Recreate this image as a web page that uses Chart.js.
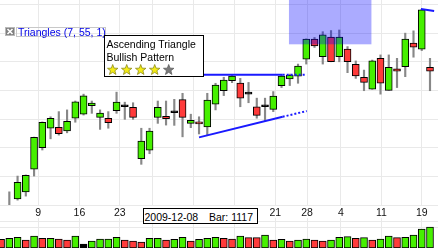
<!DOCTYPE html>
<html>
<head>
<meta charset="utf-8">
<script src="https://cdn.jsdelivr.net/npm/chart.js@4.4.1/dist/chart.umd.min.js"></script>
<style>
  html, body { margin: 0; padding: 0; background: #fff; }
  body { position: relative; width: 438px; height: 248px; overflow: hidden; font-family: "Liberation Sans", Arial, sans-serif; }
  canvas { position: absolute; left: 0; }
  #priceChart { top: 0; }
  #volumeChart { top: 218px; }
  .study-icon { position: absolute; left: 5px; top: 27px; width: 10px; height: 9px; }
  .study-label { position: absolute; left: 16px; top: 27px; width: 88px; height: 8px; border: 1px solid #c8c8c8; }
  .study-text { position: absolute; left: 18px; top: 27px; font-size: 10.5px; line-height: 11px; color: #0000e6; white-space: nowrap; }
  .pattern-box { position: absolute; left: 104px; top: 35px; width: 100px; height: 42px; box-sizing: border-box; border: 1.5px solid #000; background: #fff; }
  .pattern-box .line { position: absolute; left: 1.5px; font-size: 10.5px; line-height: 12.5px; color: #000; white-space: nowrap; }
  .stars { position: absolute; left: 2px; top: 28px; display: flex; gap: 2.6px; }
  .date-box { position: absolute; left: 143px; top: 208px; width: 115px; height: 16px; box-sizing: border-box; border: 1.5px solid #000; background: #fff; font-size: 10.5px; line-height: 12px; color: #000; }
  .date-box span { position: absolute; top: 2px; white-space: nowrap; }
</style>
</head>
<body>
<canvas id="volumeChart" width="438" height="30"></canvas>
<canvas id="priceChart" width="438" height="222"></canvas>

<svg class="study-icon" viewBox="0 0 10 9">
  <rect x="0.5" y="0.5" width="9" height="8" fill="#808080" stroke="#b8b8b8"/>
  <path d="M2.5 2 L7.5 7 M7.5 2 L2.5 7" stroke="#fff" stroke-width="1.6"/>
</svg>
<div class="study-label"></div>
<div class="study-text">Triangles (7, 55, 1)</div>

<div class="pattern-box">
  <div class="line" style="top:2.3px">Ascending Triangle</div>
  <div class="line" style="top:14.8px">Bullish Pattern</div>
  <div class="stars" id="stars"></div>
</div>

<div class="date-box">
  <span style="left:0.5px">2009-12-08</span>
  <span style="right:4px">Bar: 1117</span>
</div>

<script>
// OHLC per bar (price units, one entry per trading day)
const opens  = [-0.3, -0.4, 0.21, 0.46, 1.25, 2.00, 2.68, 2.71, 2.59, 3.03,
                3.17, 3.47, 3.06, 3.03, 3.29, 3.43, 3.41, 1.62, 1.91, 3.06,
                3.10, 3.22, 3.68, 2.85, 2.90, 2.73, 3.52, 3.99, 4.34, 4.26,
                3.87, 3.43, 3.43, 3.34, 4.17, 4.40, 4.50, 5.09, 5.79, 5.18,
                5.86, 5.18, 5.44, 4.91, 4.46, 4.04, 5.12, 4.00, 4.75, 4.83,
                5.65, 5.44, 4.81];
const highs  = [-0.1, 0.46, 1.01, 1.05, 2.37, 2.90, 3.08, 3.26, 3.32, 3.63,
                3.87, 3.63, 3.32, 3.26, 3.94, 3.59, 3.57, 2.68, 2.68, 3.63,
                3.63, 3.69, 3.90, 3.17, 3.08, 3.90, 4.25, 4.46, 4.56, 4.42,
                4.28, 3.73, 3.73, 3.96, 4.54, 4.57, 4.92, 5.80, 5.85, 6.05,
                6.09, 6.11, 5.53, 5.03, 4.71, 5.06, 5.24, 5.24, 5.12, 6.00,
                6.08, 6.83, 5.12];
const lows   = [-0.6, -0.5, 0.17, 0.31, 1.01, 1.92, 2.31, 2.44, 2.52, 2.89,
                3.14, 3.20, 2.64, 2.68, 3.20, 2.99, 2.99, 1.42, 1.79, 2.85,
                2.79, 2.78, 2.38, 2.70, 2.48, 2.44, 3.32, 3.82, 4.27, 3.43,
                3.57, 3.03, 2.93, 3.26, 4.10, 4.17, 4.25, 4.92, 5.50, 4.92,
                5.00, 5.00, 4.62, 4.42, 3.99, 4.04, 3.87, 4.00, 4.10, 4.48,
                5.16, 5.39, 3.99];
const closes = [-0.5, -0.05, 0.79, 1.04, 2.36, 2.89, 3.03, 2.49, 2.92, 3.60,
                3.81, 3.56, 3.21, 2.87, 3.59, 3.43, 3.06, 2.23, 2.58, 3.41,
                3.01, 3.22, 3.06, 2.96, 2.83, 3.66, 4.19, 4.36, 4.50, 3.73,
                3.87, 3.13, 3.43, 3.80, 4.50, 4.54, 4.85, 5.79, 5.55, 5.94,
                5.00, 5.86, 5.00, 4.51, 4.28, 5.03, 4.25, 4.81, 4.67, 5.79,
                5.51, 6.81, 4.67];

// volume per bar and the colour class shown in the volume pane
const volumes = [870, 970, 1070, 800, 1200, 970, 970, 900, 800, 1200,
                 400, 700, 900, 900, 1070, 800, 700, 600, 970, 970,
                 800, 870, 1070, 700, 870, 970, 1070, 970, 900, 1200,
                 1030, 1030, 1300, 800, 870, 700, 800, 900, 800, 700,
                 800, 1070, 1130, 970, 1030, 800, 900, 1200, 1030, 1070,
                 1300, 1900, 2100];
const volumeDir = ['d','u','u','d','u','d','u','d','d','u',
                   'f','u','u','u','u','d','d','d','u','u',
                   'd','u','u','d','u','u','u','d','d','u',
                   'd','d','u','d','u','d','u','u','d','d',
                   'u','u','u','d','u','d','u','u','d','u',
                   'u','u','u'];

// x axis: week starts (bar position) and their day labels
const tickPos    = [4.5, 9.5, 14.4, 18.4, 23.3, 28.3, 33.25, 37.1, 41.2, 46.1, 51.0];
const tickLabels = ['9', '16', '23', '30', '7', '14', '21', '28', '4', '11', '19'];
const yTicks   = [0, 1, 2, 3, 4, 5, 6, 7];
const volTicks = [2070, 2630];

// pattern overlays (bar position / price)
const resistX = [24.0, 34.14, 37.05];
const resistY = [4.55, 4.55, 4.55];
const supportX = [24.0, 34.14, 37.05];
const supportY = [2.36, 3.08, 3.28];
const nextLineX = [50.9, 52.5];
const nextLineY = [6.84, 6.77];
const zoneX = [34.9, 44.9];
const zoneY = [5.61, 7.2];
const rating = 4, ratingMax = 5;

const UP = '#46f000', DOWN = '#ff3b3b', FLAT = '#000';
const FONT = '"Liberation Sans", Arial, sans-serif';
const barIdx = opens.map((_, i) => i);

function pts(xs, ys) { return xs.map((x, i) => ({ x: x, y: ys[i] })); }

// stars in the pattern box
const starBox = document.getElementById('stars');
for (let i = 0; i < ratingMax; i++) {
    const p = [];
    for (let k = 0; k < 10; k++) {
        const r = k % 2 ? 2.3 : 5.5;
        const a = -Math.PI / 2 + k * Math.PI / 5;
        p.push((5.7 + r * Math.cos(a)).toFixed(2) + ',' + (6 + r * Math.sin(a)).toFixed(2));
    }
    const on = i < rating;
    starBox.innerHTML += `<svg width="11.4" height="11" viewBox="0 0 11.4 11">
        <polygon points="${p.join(' ')}" fill="${on ? '#f5ec14' : '#7a7a7a'}" stroke="${on ? '#8c8a1a' : '#606060'}" stroke-width="0.8"/></svg>`;
}

const zonePlugin = {
    id: 'zone',
    afterDatasetsDraw(chart) {
        const { ctx, chartArea, scales: { x, y } } = chart;
        const left = x.getPixelForValue(zoneX[0]);
        const right = x.getPixelForValue(zoneX[1]);
        const top = y.getPixelForValue(zoneY[1]);
        const bottom = y.getPixelForValue(zoneY[0]);
        ctx.save();
        ctx.beginPath();
        ctx.rect(chartArea.left, chartArea.top, chartArea.right - chartArea.left, chartArea.bottom - chartArea.top);
        ctx.clip();
        ctx.fillStyle = 'rgba(0, 0, 255, 0.33)';
        ctx.fillRect(left, top, right - left, bottom - top);
        ctx.restore();
    }
};

const xAxis = (showLabels, h) => ({
    type: 'linear', min: -0.13, max: 52.97, offset: false,
    grid: { color: '#e9e9e9', drawTicks: false, offset: false },
    border: { display: false },
    ticks: {
        display: showLabels, padding: 2, color: '#111', autoSkip: false, maxRotation: 0,
        font: { size: 10.5, family: FONT },
        callback: (v, i) => tickLabels[i]
    },
    afterBuildTicks: (axis) => { axis.ticks = tickPos.map(v => ({ value: v })); },
    afterFit: (axis) => { axis.height = h; }
});

new Chart(document.getElementById('priceChart'), {
    type: 'bar',
    data: {
        datasets: [
            {
                type: 'line', data: pts(resistX.slice(0, 2), resistY.slice(0, 2)),
                borderColor: '#1a1aff', borderWidth: 2, pointRadius: 0, order: 1
            },
            {
                type: 'line', data: pts(resistX.slice(1), resistY.slice(1)),
                borderColor: '#1a1aff', borderWidth: 2, borderDash: [2, 2], pointRadius: 0, order: 1
            },
            {
                type: 'line', data: pts(supportX.slice(0, 2), supportY.slice(0, 2)),
                borderColor: '#1a1aff', borderWidth: 2, pointRadius: 0, order: 1
            },
            {
                type: 'line', data: pts(supportX.slice(1), supportY.slice(1)),
                borderColor: '#1a1aff', borderWidth: 2, borderDash: [2, 2], pointRadius: 0, order: 1
            },
            {
                type: 'line', data: pts(nextLineX, nextLineY),
                borderColor: '#1a1aff', borderWidth: 2, pointRadius: 0, order: 1
            },
            {
                // candle bodies
                data: barIdx.map(i => ({ x: i, y: [opens[i], closes[i]] })),
                backgroundColor: barIdx.map(i => closes[i] > opens[i] ? UP : closes[i] < opens[i] ? DOWN : FLAT),
                borderColor: '#000', borderWidth: 1, borderSkipped: false,
                barThickness: 7, minBarLength: 2, grouped: false, order: 2
            },
            {
                // wicks
                data: barIdx.map(i => ({ x: i, y: [lows[i], highs[i]] })),
                backgroundColor: '#888', borderWidth: 0,
                barThickness: 1.5, grouped: false, order: 3
            }
        ]
    },
    options: {
        responsive: false, animation: false,
        layout: { padding: 0 },
        plugins: { legend: { display: false }, tooltip: { enabled: false } },
        scales: {
            x: xAxis(true, 17),
            y: {
                min: 0, max: 7.157,
                grid: { color: '#e9e9e9', drawTicks: false },
                border: { display: false },
                ticks: { display: false },
                afterBuildTicks: (axis) => { axis.ticks = yTicks.map(v => ({ value: v })); },
                afterFit: (axis) => { axis.width = 0; }
            }
        }
    },
    plugins: [zonePlugin]
});

new Chart(document.getElementById('volumeChart'), {
    type: 'bar',
    data: {
        datasets: [{
            data: barIdx.map(i => ({ x: i, y: volumes[i] })),
            backgroundColor: volumeDir.map(d => d === 'u' ? UP : d === 'd' ? DOWN : FLAT),
            borderColor: '#000', borderWidth: 1, borderSkipped: false,
            barThickness: 7, grouped: false
        }]
    },
    options: {
        responsive: false, animation: false,
        layout: { padding: 0 },
        plugins: { legend: { display: false }, tooltip: { enabled: false } },
        scales: {
            x: xAxis(false, 0),
            y: {
                min: 0, max: 3000,
                grid: { color: '#e9e9e9', drawTicks: false },
                border: { display: false },
                ticks: { display: false },
                afterBuildTicks: (axis) => { axis.ticks = volTicks.map(v => ({ value: v })); },
                afterFit: (axis) => { axis.width = 0; }
            }
        }
    }
});
</script>
</body>
</html>
